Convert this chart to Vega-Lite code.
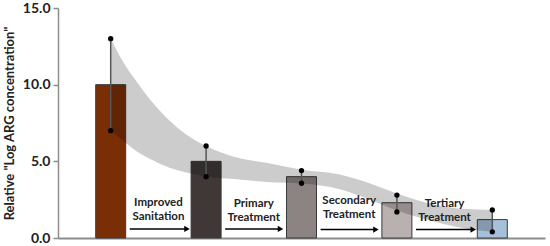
{
  "$schema": "https://vega.github.io/schema/vega-lite/v6.json",
  "width": 487,
  "height": 230,
  "autosize": {"type": "none"},
  "padding": {"left": 58, "top": 8, "right": 5, "bottom": 8},
  "background": "white",
  "config": {"view": {"stroke": null}, "font": "Lato"},
  "datasets": {
    "bars": [
      {"pos": 1, "stage": "Untreated", "value": 10.0, "lo": 7.0, "hi": 13.0},
      {"pos": 2, "stage": "Improved Sanitation", "value": 5.0, "lo": 4.0, "hi": 6.0},
      {"pos": 3, "stage": "Primary Treatment", "value": 4.0, "lo": 3.57, "hi": 4.4},
      {"pos": 4, "stage": "Secondary Treatment", "value": 2.3, "lo": 1.7, "hi": 2.8},
      {"pos": 5, "stage": "Tertiary Treatment", "value": 1.2, "lo": 0.4, "hi": 1.83}
    ],
    "band": [
      {"x": 1.0, "lo": 7.0, "hi": 13.0},
      {"x": 1.12, "lo": 6.4, "hi": 11.6},
      {"x": 1.26, "lo": 5.7, "hi": 10.3},
      {"x": 1.43, "lo": 5.1, "hi": 8.9},
      {"x": 1.61, "lo": 4.6, "hi": 7.7},
      {"x": 1.77, "lo": 4.3, "hi": 6.85},
      {"x": 2.0, "lo": 4.0, "hi": 6.0},
      {"x": 2.29, "lo": 3.85, "hi": 5.3},
      {"x": 2.63, "lo": 3.65, "hi": 4.9},
      {"x": 3.0, "lo": 3.55, "hi": 4.45},
      {"x": 3.39, "lo": 3.2, "hi": 4.15},
      {"x": 3.72, "lo": 2.5, "hi": 3.55},
      {"x": 4.0, "lo": 1.8, "hi": 2.9},
      {"x": 4.41, "lo": 1.05, "hi": 2.15},
      {"x": 4.69, "lo": 0.65, "hi": 1.9},
      {"x": 5.0, "lo": 0.4, "hi": 1.83}
    ],
    "labels": [
      {"x": 1.5, "y": 2.3, "label": "Improved\nSanitation"},
      {"x": 2.5, "y": 2.2, "label": "Primary\nTreatment"},
      {"x": 3.5, "y": 2.4, "label": "Secondary\nTreatment"},
      {"x": 4.5, "y": 2.25, "label": "Tertiary\nTreatment"}
    ],
    "arrows": [
      {"from": 1.2, "to": 1.8, "y": 0.59},
      {"from": 2.2, "to": 2.78, "y": 0.59},
      {"from": 3.2, "to": 3.78, "y": 0.55},
      {"from": 4.2, "to": 4.8, "y": 0.55}
    ]
  },
  "layer": [
    {
      "data": {"name": "bars"},
      "mark": {"type": "bar", "size": 30, "stroke": "#3a3a3a", "strokeWidth": 1},
      "encoding": {
        "x": {"field": "pos", "type": "quantitative",
              "scale": {"domain": [0.5, 5.5], "nice": false, "zero": false},
              "axis": {"title": null, "labels": false, "ticks": false, "grid": false, "domainColor": "#8c8c8c", "domainWidth": 2}},
        "y": {"field": "value", "type": "quantitative",
              "scale": {"domain": [0, 15], "nice": false},
              "axis": {"values": [0, 5, 10, 15], "format": ".1f", "grid": false,
                       "title": "Relative \"Log ARG concentration\"", "titleFontSize": 13, "titleFontWeight": "bold", "titleColor": "#222", "titlePadding": 6,
                       "labelFontSize": 14, "labelFontWeight": "bold", "labelColor": "#222", "labelPadding": 3,
                       "domainColor": "#8c8c8c", "domainWidth": 1.5, "tickColor": "#8c8c8c", "tickSize": 5, "tickWidth": 1.5}},
        "color": {"field": "stage", "type": "nominal", "legend": null,
                  "scale": {"domain": ["Untreated", "Improved Sanitation", "Primary Treatment", "Secondary Treatment", "Tertiary Treatment"],
                            "range": ["#7A2E05", "#3F3836", "#8C8483", "#B9B1B0", "#A6BFDA"]}}
      }
    },
    {
      "data": {"name": "band"},
      "mark": {"type": "area", "color": "black", "opacity": 0.2, "interpolate": "monotone"},
      "encoding": {
        "x": {"field": "x", "type": "quantitative"},
        "y": {"field": "lo", "type": "quantitative"},
        "y2": {"field": "hi"}
      }
    },
    {
      "data": {"name": "bars"},
      "mark": {"type": "rule", "color": "#555", "strokeWidth": 1.5},
      "encoding": {
        "x": {"field": "pos", "type": "quantitative"},
        "y": {"field": "lo", "type": "quantitative"},
        "y2": {"field": "hi"}
      }
    },
    {
      "data": {"name": "bars"},
      "mark": {"type": "point", "filled": true, "color": "black", "opacity": 1, "size": 28},
      "encoding": {
        "x": {"field": "pos", "type": "quantitative"},
        "y": {"field": "lo", "type": "quantitative"}
      }
    },
    {
      "data": {"name": "bars"},
      "mark": {"type": "point", "filled": true, "color": "black", "opacity": 1, "size": 28},
      "encoding": {
        "x": {"field": "pos", "type": "quantitative"},
        "y": {"field": "hi", "type": "quantitative"}
      }
    },
    {
      "data": {"name": "labels"},
      "mark": {"type": "text", "lineBreak": "\n", "fontSize": 11.5, "fontWeight": "bold", "color": "#222", "align": "center", "baseline": "middle", "lineHeight": 14},
      "encoding": {
        "x": {"field": "x", "type": "quantitative"},
        "y": {"field": "y", "type": "quantitative"},
        "text": {"field": "label"}
      }
    },
    {
      "data": {"name": "arrows"},
      "mark": {"type": "rule", "color": "black", "strokeWidth": 1.5},
      "encoding": {
        "x": {"field": "from", "type": "quantitative"},
        "x2": {"field": "to"},
        "y": {"field": "y", "type": "quantitative"}
      }
    },
    {
      "data": {"name": "arrows"},
      "mark": {"type": "point", "shape": "triangle-right", "filled": true, "color": "black", "opacity": 1, "size": 40},
      "encoding": {
        "x": {"field": "to", "type": "quantitative"},
        "y": {"field": "y", "type": "quantitative"}
      }
    }
  ]
}
